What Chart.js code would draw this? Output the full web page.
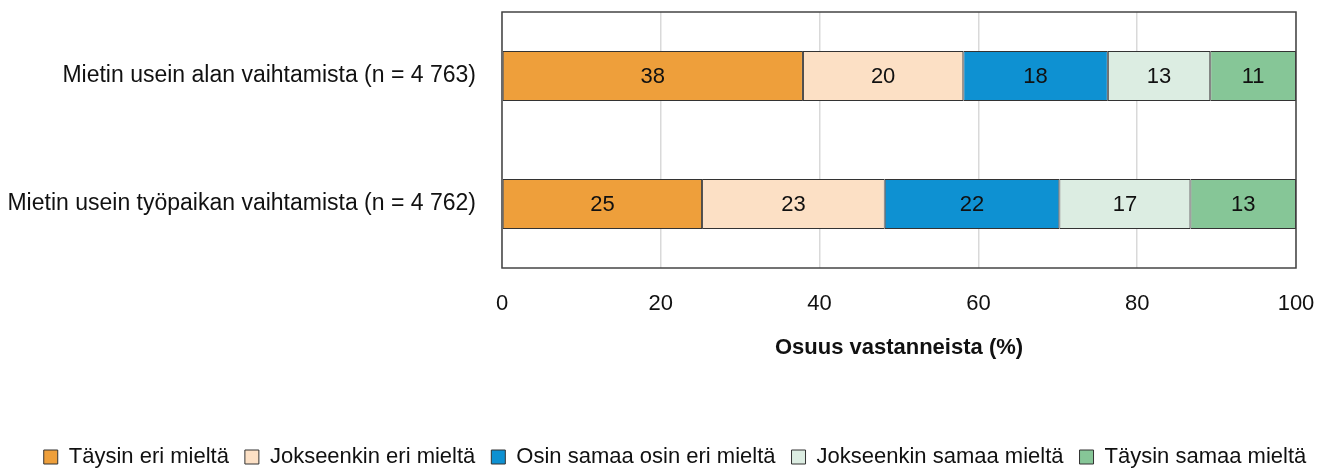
<!DOCTYPE html>
<html>
<head>
<meta charset="utf-8">
<script src="https://cdn.jsdelivr.net/npm/chart.js@4/dist/chart.umd.min.js"></script>
<style>
  body { margin: 0; background: #fff; }
  canvas { display: block; }
</style>
</head>
<body>
<canvas id="chart" width="1317" height="468"></canvas>
<script>
// Categories and series (percent of respondents)
const categories = [
    "Mietin usein alan vaihtamista (n = 4 763)",
    "Mietin usein työpaikan vaihtamista (n = 4 762)"
];
const seriesNames = [
    "Täysin eri mieltä",
    "Jokseenkin eri mieltä",
    "Osin samaa osin eri mieltä",
    "Jokseenkin samaa mieltä",
    "Täysin samaa mieltä"
];
const taysinEri = [37.9, 25.2];
const jokseenkinEri = [20.2, 23.0];
const osin = [18.2, 22.0];
const jokseenkinSamaa = [12.9, 16.5];
const taysinSamaa = [10.8, 13.3];
const xTicks = [0, 20, 40, 60, 80, 100];

const colors = ['#EE9F3B', '#FCE0C5', '#0E91D2', '#DCEDE2', '#86C697'];
const FONT = '"Liberation Sans Narrow", "Arial Narrow", "Liberation Sans", Arial, sans-serif';
const SIZE = 22;

const seriesValues = [taysinEri, jokseenkinEri, osin, jokseenkinSamaa, taysinSamaa];

// Draws the rounded value in the middle of each bar segment
const barLabels = {
    id: 'barLabels',
    afterDatasetsDraw(chart) {
        const ctx = chart.ctx;
        ctx.save();
        ctx.font = SIZE + 'px ' + FONT;
        ctx.fillStyle = '#111';
        ctx.textAlign = 'center';
        ctx.textBaseline = 'middle';
        chart.data.datasets.forEach((ds, i) => {
            chart.getDatasetMeta(i).data.forEach((bar, j) => {
                ctx.fillText(Math.round(ds.data[j]), (bar.x + bar.base) / 2, bar.y + 1);
            });
        });
        ctx.restore();
    }
};

// Frame round the whole plot area
const plotFrame = {
    id: 'plotFrame',
    afterDraw(chart) {
        const a = chart.chartArea;
        const ctx = chart.ctx;
        ctx.save();
        ctx.strokeStyle = '#444';
        ctx.lineWidth = 1.5;
        ctx.strokeRect(a.left, a.top, a.right - a.left, a.bottom - a.top);
        ctx.restore();
    }
};

// The legend sits a little right of centre in the original
const legendShift = {
    id: 'legendShift',
    afterLayout(chart) {
        chart.legend.left += 27;
        chart.legend.right += 27;
    }
};

function noPadding(scale) {
    scale.paddingLeft = 0;
    scale.paddingRight = 0;
    scale.paddingTop = 0;
    scale.paddingBottom = 0;
}

new Chart(document.getElementById('chart'), {
    type: 'bar',
    data: {
        labels: categories,
        datasets: seriesNames.map((name, i) => ({
            label: name,
            data: seriesValues[i],
            backgroundColor: colors[i],
            borderColor: '#333',
            borderWidth: 1,
            borderSkipped: false,
            barPercentage: 0.39,
            categoryPercentage: 1
        }))
    },
    options: {
        indexAxis: 'y',
        responsive: false,
        animation: false,
        devicePixelRatio: 1,
        layout: { padding: { top: 12, right: 21, left: 0, bottom: -10 } },
        scales: {
            x: {
                stacked: true,
                min: 0,
                max: 100,
                afterBuildTicks: scale => { scale.ticks = xTicks.map(v => ({ value: v })); },
                grid: { color: '#d9d9d9', lineWidth: 1.5, drawTicks: false },
                border: { display: false },
                ticks: { color: '#111', padding: 23, font: { family: FONT, size: SIZE } },
                title: {
                    display: true,
                    text: 'Osuus vastanneista (%)',
                    color: '#111',
                    padding: { top: 17, bottom: 69 },
                    font: { family: FONT, size: SIZE, weight: 'bold' }
                },
                afterFit: scale => { scale.height = 162; noPadding(scale); }
            },
            y: {
                stacked: true,
                grid: { display: false, drawTicks: false },
                border: { display: false },
                ticks: { color: '#111', padding: 26, font: { family: FONT, size: 23 } },
                afterFit: scale => { scale.width = 502; noPadding(scale); }
            }
        },
        plugins: {
            legend: {
                position: 'bottom',
                labels: {
                    color: '#111',
                    boxWidth: 14,
                    boxHeight: 14,
                    padding: 16,
                    font: { family: FONT, size: SIZE }
                }
            },
            tooltip: { enabled: false }
        }
    },
    plugins: [barLabels, plotFrame, legendShift]
});
</script>
</body>
</html>
